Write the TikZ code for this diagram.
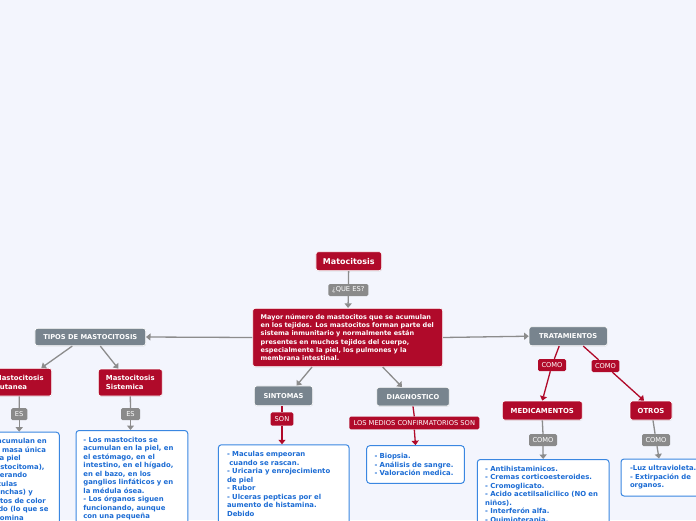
\documentclass[tikz,border=0pt]{standalone}
\usepackage{fontspec}
\setmainfont{DejaVu Sans}
\usetikzlibrary{arrows.meta,shadows}
\definecolor{mapR}{RGB}{176,10,42}
\definecolor{mapG}{RGB}{120,132,142}
\definecolor{tagG}{RGB}{138,138,138}
\definecolor{lineG}{RGB}{140,140,140}
\definecolor{noteB}{RGB}{58,135,225}
\definecolor{noteT}{RGB}{28,108,212}
\definecolor{paper}{RGB}{243,245,253}
\newcommand{\fsz}[2]{\fontsize{#1}{#2}\selectfont}

\begin{document}
\begin{tikzpicture}[x=1pt,y=-1pt,>={Triangle[length=4.5pt,width=7pt]},
  card/.style={rounded corners=2.5pt,draw=white,line width=0.7pt,inner sep=0pt,text=white,
    drop shadow={opacity=0.18,shadow xshift=0.4pt,shadow yshift=-0.8pt}},
  topic/.style={card,fill=mapR,font=\bfseries\fsz{6.9}{8.6}},
  group/.style={card,fill=mapG,font=\bfseries\fsz{6.7}{8}},
  tag/.style={fill=tagG,text=white,rounded corners=1.5pt,inner sep=0pt,font=\fsz{6.7}{8},minimum height=12},
  redtag/.style={tag,fill=mapR},
  note/.style={draw=noteB,fill=white,line width=1pt,rounded corners=3pt,text=noteT,anchor=north,
    font=\bfseries\fsz{6.9}{8.5},align=left,inner xsep=8pt,inner ysep=6.5pt},
  link/.style={draw=lineG,line width=1.3pt},
  redlink/.style={draw=mapR,line width=1.3pt}]
\useasboundingbox (0,0) rectangle (696,520);
\fill[paper] (0,0) rectangle (696,520);
\clip (0,0) rectangle (696,520);

% centre
\node[topic,minimum width=65.7,minimum height=19,font=\bfseries\fsz{8}{9}] (mat) at (348.8,261.2) {Matocitosis};
\node[tag,minimum width=40] (quees) at (348.3,290) {¿QUE ES?};
\node[topic,minimum width=190,minimum height=58.4,text width=174,align=left,font=\bfseries\fsz{6.5}{8.15}] (desc) at (347.7,337.5)
  {Mayor número de mastocitos que se acumulan\\en los tejidos. Los mastocitos forman parte del\\sistema inmunitario y normalmente están\\presentes en muchos tejidos del cuerpo,\\especialmente la piel, los pulmones y la\\membrana intestinal.};

% tipos
\node[group,minimum width=110.7,minimum height=17.4] (tipos) at (90.3,337) {TIPOS DE MASTOCITOSIS};
\node[topic,minimum width=64.8,minimum height=27.7,align=left] (cut) at (19.3,382.2) {Mastocitosis\\Cutanea};
\node[topic,minimum width=64,minimum height=27,align=left] (sist) at (130.3,382.5) {Mastocitosis\\Sistemica};
\node[tag,minimum width=16.3] (escut) at (19.2,414.2) {ES};
\node[tag,minimum width=19] (essist) at (130.5,414.2) {ES};
\node[note,text width=66,text depth=100] (cutbox) at (18.3,431.7)
  {Se acumulan en\\una masa única\\en la piel\\(mastocitoma),\\generando\\máculas\\(manchas) y\\puntos de color\\pardo (lo que se\\denomina};
\node[note,text width=97,inner xsep=7.35,text depth=100] (sistbox) at (131.9,430)
  {- Los mastocitos se\\acumulan en la piel, en\\el estómago, en el\\intestino, en el hígado,\\en el bazo, en los\\ganglios linfáticos y en\\la médula ósea.\\- Los órganos siguen\\funcionando, aunque\\con una pequeña};

% sintomas y diagnostico
\node[group,minimum width=58.4,minimum height=19.7] (sint) at (283.5,395.8) {SINTOMAS};
\node[group,minimum width=72.6,minimum height=18.7] (diag) at (413,396.7) {DIAGNOSTICO};
\node[redtag,minimum width=22.6,minimum height=13.4] (son) at (282,419) {SON};
\node[redtag,minimum width=130,minimum height=12.7] (medios) at (414.3,423) {LOS MEDIOS CONFIRMATORIOS SON};
\node[note,text width=113.3,inner xsep=8.7,text depth=100] (sintbox) at (283.7,444.3)
  {- Maculas empeoran\\\hspace*{2.3pt}cuando se rascan.\\- Uricaria y enrojecimiento\\de piel\\- Rubor\\- Ulceras pepticas por el\\aumento de histamina.\\Debido};
\node[note,text width=82,inner xsep=7.8,minimum height=37.6,anchor=center] (diagbox) at (415.5,464.5)
  {- Biopsia.\\- Análisis de sangre.\\- Valoración medica.};

% tratamientos
\node[group,minimum width=78.3,minimum height=19] (trat) at (568.2,336.2) {TRATAMIENTOS};
\node[redtag,minimum width=28] (como1) at (552,365) {COMO};
\node[redtag,minimum width=27.7] (como2) at (605.5,366) {COMO};
\node[topic,minimum width=80,minimum height=19] (medic) at (542.3,410.5) {MEDICAMENTOS};
\node[topic,minimum width=42,minimum height=19] (otros) at (651,410.5) {OTROS};
\node[tag,minimum width=28] (como3) at (543,440) {COMO};
\node[tag,minimum width=28] (como4) at (656,440) {COMO};
\node[note,text width=116,inner xsep=7.85,text depth=100] (medbox) at (543.15,459)
  {- Antihistaminicos.\\- Cremas corticoesteroides.\\- Cromoglicato.\\- Acido acetilsalicilico (NO en\\niños).\\- Interferón alfa.\\- Quimioterapia.};
\node[note,text width=74,inner xsep=9,minimum height=37,anchor=center] (otrbox) at (667,477.5)
  {-Luz ultravioleta.\\- Extirpación de\\organos.};

% connectors
\draw[link] (mat) -- (quees);
\draw[link,->] (quees) -- (desc);
\draw[link,->] (desc.west) -- (tipos.east);
\draw[link,->] (desc.east) -- (trat.west);
\draw[link,->] ([xshift=-18]tipos.south) -- ([xshift=22]cut.north);
\draw[link,->] ([xshift=10]tipos.south) -- ([xshift=-12]sist.north);
\draw[link] (cut.south) -- (escut.north);
\draw[link,->] (escut.south) -- (escut.south |- cutbox.north);
\draw[link] (sist.south) -- (essist.north);
\draw[link,->] (essist.south) -- (essist.south |- sistbox.north);
\draw[link,->] ([xshift=-35.7]desc.south) -- ([xshift=13]sint.north);
\draw[link,->] ([xshift=35]desc.south) -- ([xshift=-11]diag.north);
\draw[redlink] (son.north |- sint.south) -- (son.north);
\draw[redlink,->] (son.south) -- (son.south |- sintbox.north);
\draw[redlink] (diag.south) -- (medios.north);
\draw[redlink,->] (medios.south) -- (diagbox.north);
\draw[redlink] ([xshift=-9]trat.south) -- (como1);
\draw[redlink,->] (como1) -- (medic.north);
\draw[redlink] ([xshift=15]trat.south) -- (como2);
\draw[redlink,->] (como2) -- ([xshift=-7]otros.north);
\draw[link] (medic.south) -- (como3.north);
\draw[link,->] (como3.south) -- (medbox.north);
\draw[link] ([xshift=2]otros.south) -- (como4);
\draw[link,->] (como4) -- ([xshift=-8]otrbox.north);
\end{tikzpicture}
\end{document}
